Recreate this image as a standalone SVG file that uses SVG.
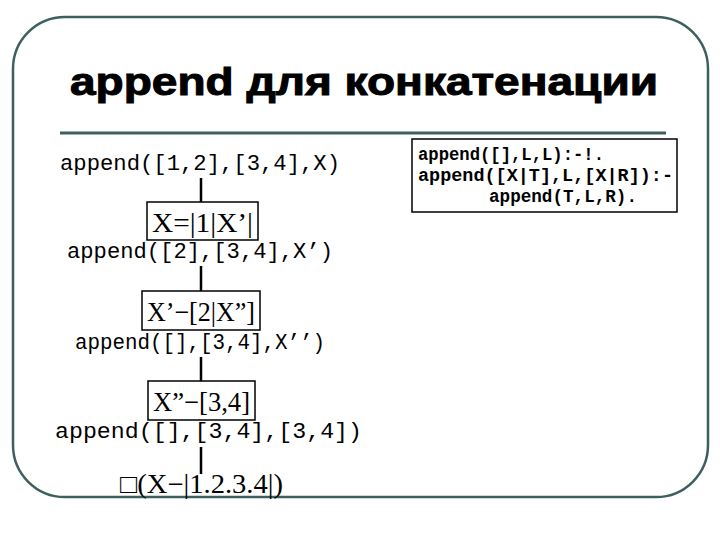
<svg xmlns="http://www.w3.org/2000/svg" width="720" height="540" viewBox="0 0 720 540">
<style>
.frame{fill:none;stroke:#3d605e;stroke-width:2.5}
.title{font-family:"Liberation Sans",Arial,sans-serif;font-weight:bold;font-size:38px;fill:#000;stroke:#000;stroke-width:1}
.tt{font-family:"Liberation Mono","Courier New",monospace;font-size:22px;fill:#000}
.mt{font-family:"Liberation Serif","Times New Roman",serif;font-size:27px;fill:#000}
.code{font-family:"Liberation Mono","Courier New",monospace;font-weight:bold;font-size:18px;fill:#000}
.box{fill:#fff;stroke:#000;stroke-width:1.5}
.conn{stroke:#000;stroke-width:2.5}
</style>
<rect width="720" height="540" fill="#fff"/>
<rect class="frame" x="13" y="17" width="695" height="480" rx="52" ry="52"/>
<text class="title" x="70" y="95" textLength="588" lengthAdjust="spacingAndGlyphs">append для конкатенации</text>
<line x1="60" y1="133" x2="666" y2="133" stroke="#3d605e" stroke-width="3"/>
<g id="rules">
<rect class="box" x="412" y="139" width="265" height="73" stroke-width="1"/>
<text class="code" x="418" y="160" textLength="186" lengthAdjust="spacingAndGlyphs">append([],L,L):-!.</text>
<text class="code" x="418" y="181" textLength="255" lengthAdjust="spacingAndGlyphs">append([X|T],L,[X|R]):-</text>
<text class="code" x="489" y="202" textLength="148" lengthAdjust="spacingAndGlyphs">append(T,L,R).</text>
</g>
<g id="connectors">
<line class="conn" x1="201" y1="178" x2="201" y2="203"/>
<line class="conn" x1="201" y1="266" x2="201" y2="291"/>
<line class="conn" x1="201" y1="357" x2="201" y2="381"/>
<line class="conn" x1="201" y1="447" x2="201" y2="474"/>
</g>
<g id="n1"><text class="tt" x="60" y="170" textLength="280" lengthAdjust="spacingAndGlyphs">append([1,2],[3,4],X)</text></g>
<g id="b1"><rect class="box" x="147" y="202" width="111" height="38"/><text class="mt" x="152" y="232" textLength="101" lengthAdjust="spacingAndGlyphs">X=|1|X’|</text></g>
<g id="n2"><text class="tt" x="67" y="258" textLength="266" lengthAdjust="spacingAndGlyphs">append([2],[3,4],X’)</text></g>
<g id="b2"><rect class="box" x="142" y="291" width="118" height="39"/><text class="mt" x="147" y="321" textLength="108" lengthAdjust="spacingAndGlyphs">X’−[2|X”]</text></g>
<g id="n3"><text class="tt" x="75" y="349" textLength="250" lengthAdjust="spacingAndGlyphs">append([],[3,4],X’’)</text></g>
<g id="b3"><rect class="box" x="148" y="381" width="107" height="39"/><text class="mt" x="153" y="411" textLength="97" lengthAdjust="spacingAndGlyphs">X”−[3,4]</text></g>
<g id="n4"><text class="tt" x="55" y="438" textLength="307" lengthAdjust="spacingAndGlyphs">append([],[3,4],[3,4])</text></g>
<g id="n5"><text class="mt" x="120" y="493" textLength="163" lengthAdjust="spacingAndGlyphs">□(X−|1.2.3.4|)</text></g>
</svg>
